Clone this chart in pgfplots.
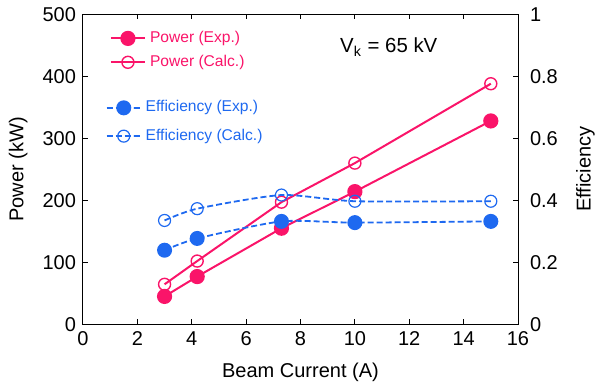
\documentclass[border=0pt]{standalone}
\usepackage{pgfplots}
\pgfplotsset{compat=1.18}
\usepackage{fontspec}
\setmainfont{Liberation Sans}
\definecolor{pk}{RGB}{250,20,105}
\definecolor{bl}{RGB}{30,105,240}
\begin{document}
\begin{tikzpicture}
\useasboundingbox (-41.5pt,-31.35pt) rectangle (256pt,162.15pt);
\pgfplotsset{
  every axis/.append style={
    scale only axis, width=217.5pt, height=155pt,
    at={(0,0)}, anchor=south west,
    xmin=0, xmax=16,
    tick align=inside, major tick length=2.5pt,
    font=\fontsize{10}{12}\selectfont,
    /pgf/number format/assume math mode=true,
    axis line style={line width=0.5pt},
    every tick/.style={black, line width=0.5pt},
  },
}
\begin{axis}[
  ymin=0, ymax=500,
  ytick={0,100,...,500},
  xtick={0,2,...,16},
  ytick pos=left, xtick pos=both,
  xlabel={Beam Current (A)},
  ylabel={Power (kW)},
  xlabel style={at={(axis description cs:0.5,-0.154)}, anchor=center},
  ylabel style={at={(axis description cs:-0.149,0.5)}, anchor=center},
  legend style={draw=none, fill=none, at={(axis cs:0.9,483)}, anchor=north west,
    font=\fontsize{7.8}{9}\selectfont, row sep=0.8pt, inner sep=1pt,
    /tikz/every even column/.append style={column sep=1pt}},
  legend cell align=left,
]
\addplot[pk, line width=1pt, mark=*, mark size=3.3pt, mark options={solid, fill=pk}]
  coordinates {(3,45) (4.2,77) (7.3,155) (10,214) (15,328)};
\addlegendentry{\textcolor{pk}{Power (Exp.)}}
\addplot[pk, line width=1pt, mark=o, mark size=3pt, mark options={solid, line width=0.7pt}]
  coordinates {(3,64.5) (4.2,102) (7.3,197) (10,260) (15,388)};
\addlegendentry{\textcolor{pk}{Power (Calc.)}}
\node[anchor=west, font=\fontsize{10.2}{12}\selectfont] at (axis cs:9.2,447) {V\textsubscript{k} = 65 kV};
\end{axis}
\begin{axis}[
  axis x line=none, axis y line*=right,
  ymin=0, ymax=1,
  ytick={0,0.2,...,1},
  yticklabels={0,0.2,0.4,0.6,0.8,1},
  yticklabel style={xshift=2.5pt},
  ylabel={Efficiency},
  ylabel style={at={(axis description cs:1.155,0.5)}, anchor=center},
  legend style={draw=none, fill=none, at={(axis cs:0.75,0.742)}, anchor=north west,
    font=\fontsize{7.8}{9}\selectfont, row sep=3pt, inner sep=1pt,
    /tikz/every even column/.append style={column sep=1pt}},
  legend cell align=left,
]
\addplot[bl, line width=0.9pt, dash pattern=on 3pt off 1.5pt, smooth, tension=0.4, mark=*, mark size=3.3pt, mark options={solid, fill=bl}]
  coordinates {(3,0.239) (4.2,0.277) (7.3,0.332) (10,0.328) (15,0.332)};
\addlegendentry{\textcolor{bl}{Efficiency (Exp.)}}
\addplot[bl, line width=0.9pt, dash pattern=on 3pt off 1.5pt, smooth, tension=0.4, mark=o, mark size=3pt, mark options={solid, line width=0.6pt}]
  coordinates {(3,0.335) (4.2,0.373) (7.3,0.417) (10,0.397) (15,0.397)};
\addlegendentry{\textcolor{bl}{Efficiency (Calc.)}}
\end{axis}
\end{tikzpicture}
\end{document}
